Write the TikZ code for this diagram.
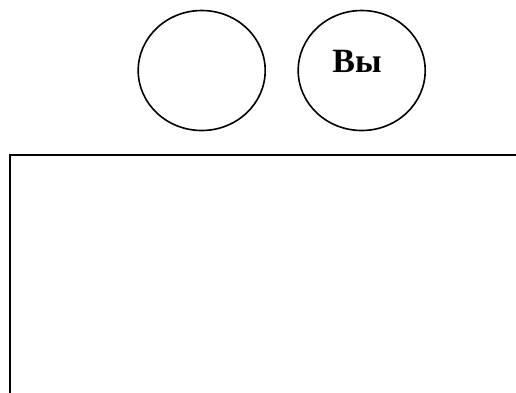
\documentclass[tikz,border=0pt]{standalone}
\usepackage{fontspec}
\setmainfont{Liberation Serif}
\usetikzlibrary{shapes.geometric}
\begin{document}
\begin{tikzpicture}[x=1pt,y=-1pt,
  oval/.style={draw,ellipse,line width=1.6pt,minimum width=127pt,minimum height=120pt,inner sep=0pt},
  frameline/.style={draw,line width=2pt}]
\useasboundingbox (0,0) rectangle (516,392);
\node[oval] (e1) at (201.7,70.5) {};
\node[oval] (e2) at (361.7,70.5) {};
\node[anchor=base,font=\fontsize{34}{36}\selectfont\bfseries,inner sep=0pt] (vy) at (357,72) {Вы};
\coordinate (bl) at (9.5,394);
\coordinate (tl) at (9.5,155);
\coordinate (tr) at (518,155);
\draw[frameline] (bl) -- (tl) -- (tr);
\end{tikzpicture}
\end{document}
